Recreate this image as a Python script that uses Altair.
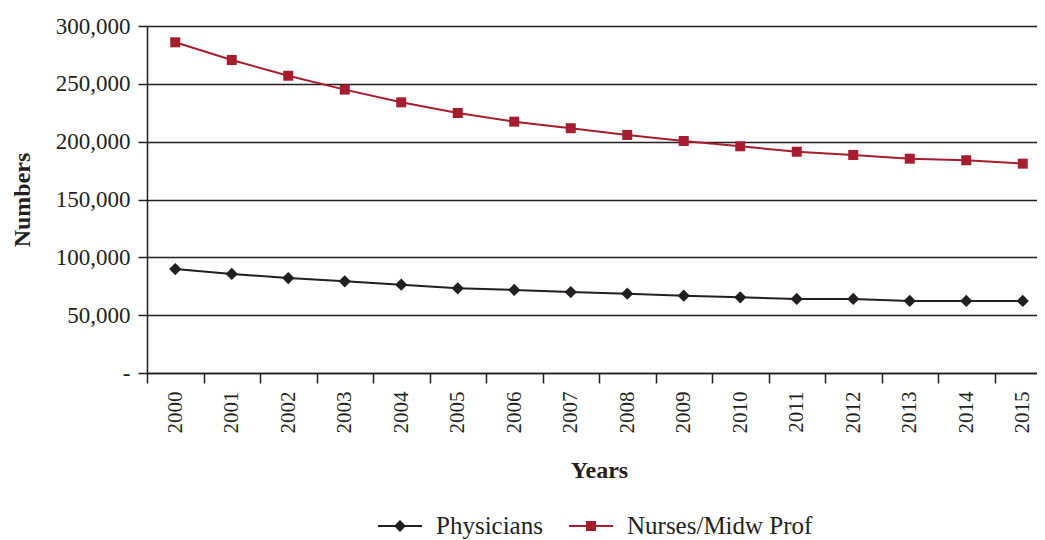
import altair as alt
import pandas as pd

years = [str(y) for y in range(2000, 2016)]
physicians = [89900, 85600, 82100, 79300, 76300, 73200, 71800, 70000,
              68600, 66800, 65400, 64000, 64000, 62300, 62300, 62300]
nurses = [285900, 270600, 257000, 245000, 234000, 224800, 217300, 211600,
          205800, 200600, 196000, 191300, 188500, 185300, 183900, 181000]
series = ["Physicians", "Nurses/Midw Prof"]
colors = ["#231f20", "#a51d2f"]
marker_shapes = ["diamond", "square"]
marker_sizes = [150, 100]
legend_paths = ["M-1,-0.045H1V0.045H-1Z M0,-0.27L0.27,0L0,0.27L-0.27,0Z",
                "M-1,-0.045H1V0.045H-1Z M-0.23,-0.23H0.23V0.23H-0.23Z"]

df = pd.concat([
    pd.DataFrame({"Year": years, "Value": physicians, "Series": series[0]}),
    pd.DataFrame({"Year": years, "Value": nurses, "Series": series[1]}),
])

FONT = "Liberation Serif"
INK = "#231f20"

x = alt.X("Year:N", sort=years,
          axis=alt.Axis(title="Years", labelAngle=-90, tickBand="extent",
                        tickSize=10, labelPadding=8, labelFontSize=21,
                        titleFontSize=24, titleFontWeight="bold", titlePadding=25,
                        grid=False, domainColor=INK, tickColor=INK, domainWidth=1.5,
                        tickWidth=1.5))
y = alt.Y("Value:Q", scale=alt.Scale(domain=[0, 300000], nice=False),
          axis=alt.Axis(title="Numbers", values=[0, 50000, 100000, 150000, 200000, 250000, 300000],
                        labelExpr="datum.value == 0 ? '-' : format(datum.value, ',')",
                        tickSize=9, labelPadding=8, labelFontSize=23,
                        titleFontSize=24, titleFontWeight="bold", titlePadding=21,
                        grid=True, gridColor=INK, gridWidth=1.5, domainColor=INK,
                        tickColor=INK, domainWidth=1.5, tickWidth=1.5))

series_layers = []
for s, shp, sz, c in zip(series, marker_shapes, marker_sizes, colors):
    base = alt.Chart(df).transform_filter(alt.datum.Series == s)
    series_layers.append(base.mark_line(strokeWidth=2, color=c).encode(x=x, y=y))
    series_layers.append(base.mark_point(filled=True, opacity=1, shape=shp, size=sz, color=c).encode(x=x, y=y))

leg = alt.Legend(title=None, orient="none", legendX=231, legendY=478,
                 direction="horizontal", symbolSize=1936, symbolOpacity=1,
                 symbolStrokeWidth=0,
                 labelFontSize=25, labelFont=FONT, labelColor=INK,
                 labelOffset=14, columnPadding=26, labelLimit=500)

legend_layer = alt.Chart(df).mark_point(filled=True, opacity=0).encode(
    x=x, y=y,
    color=alt.Color("Series:N", scale=alt.Scale(domain=series, range=colors), legend=leg),
    shape=alt.Shape("Series:N", scale=alt.Scale(domain=series, range=legend_paths), legend=leg),
)

chart = alt.layer(*series_layers, legend_layer).properties(
    width=alt.Step(56.5), height=347,
    autosize=alt.AutoSizeParams(type="none"),
    padding={"left": 139, "top": 18, "right": -14, "bottom": 167},
).configure(
    font=FONT,
    style={"guide-label": {"font": FONT}, "guide-title": {"font": FONT}},
).configure_axis(
    labelFont=FONT, titleFont=FONT, labelColor=INK, titleColor=INK
).configure_legend(labelFont=FONT, titleFont=FONT).configure_view(stroke=None)

chart.save("out.html", embed_options={"renderer": "svg", "actions": False})
